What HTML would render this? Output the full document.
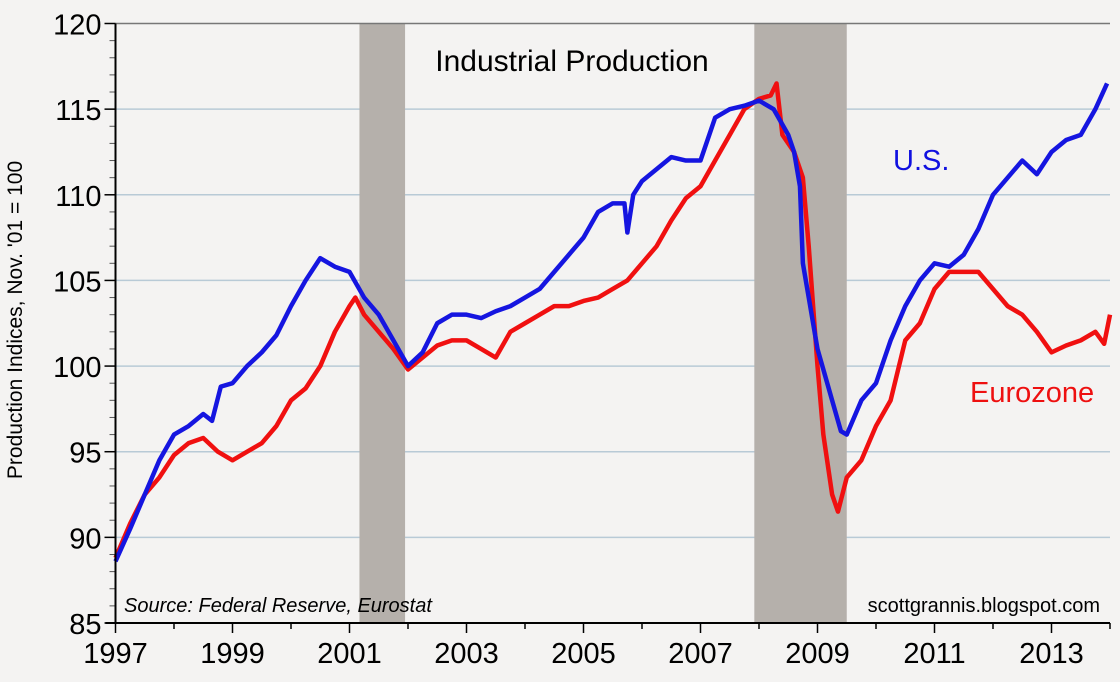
<!DOCTYPE html>
<html><head><meta charset="utf-8"><style>
body{margin:0;background:#f4f3f2;}
svg{display:block;font-family:"Liberation Sans",sans-serif;}
</style></head><body>
<svg id="chart" width="1120" height="682">
<rect width="1120" height="682" fill="#f4f3f2"/>
<g id="grid"></g><g id="rec"></g><g id="series"></g><g id="axes"></g>
<text x="572" y="71" font-size="30" text-anchor="middle">Industrial Production</text>
<text x="893" y="170" font-size="29" fill="#1010e0">U.S.</text>
<text x="970" y="402" font-size="29" fill="#ee1010">Eurozone</text>
<text x="124" y="612" font-size="20" font-style="italic">Source: Federal Reserve, Eurostat</text>
<text x="1100" y="612" font-size="20" text-anchor="end">scottgrannis.blogspot.com</text>
<text transform="translate(22,320) rotate(-90)" font-size="21" text-anchor="middle">Production Indices, Nov. '01 = 100</text>
</svg>
<script>
const yTicks=[85,90,95,100,105,110,115,120];
const xTicks=[1997,1999,2001,2003,2005,2007,2009,2011,2013];
const recessions=[[2001.17,2001.95],[2007.92,2009.5]];
const usDates=[1997.0,1997.25,1997.5,1997.75,1998.0,1998.25,1998.5,1998.65,1998.8,1999.0,1999.25,1999.5,1999.75,2000.0,2000.25,2000.5,2000.75,2001.0,2001.25,2001.5,2001.75,2002.0,2002.25,2002.5,2002.75,2003.0,2003.25,2003.5,2003.75,2004.0,2004.25,2004.5,2004.75,2005.0,2005.25,2005.5,2005.7,2005.75,2005.85,2006.0,2006.25,2006.5,2006.75,2007.0,2007.25,2007.5,2007.75,2008.0,2008.25,2008.5,2008.6,2008.7,2008.75,2008.85,2009.0,2009.25,2009.4,2009.5,2009.75,2010.0,2010.25,2010.5,2010.75,2011.0,2011.25,2011.5,2011.75,2012.0,2012.25,2012.5,2012.75,2013.0,2013.25,2013.5,2013.75,2013.95];
const usValues=[88.6,90.5,92.5,94.5,96,96.5,97.2,96.8,98.8,99,100,100.8,101.8,103.5,105,106.3,105.8,105.5,104,103,101.5,100,100.8,102.5,103,103,102.8,103.2,103.5,104,104.5,105.5,106.5,107.5,109,109.5,109.5,107.8,110,110.8,111.5,112.2,112,112,114.5,115,115.2,115.5,115,113.5,112.5,110.5,106,104,101,98,96.2,96,98,99,101.5,103.5,105,106,105.8,106.5,108,110,111,112,111.2,112.5,113.2,113.5,115,116.5];
const ezDates=[1997.0,1997.25,1997.5,1997.75,1998.0,1998.25,1998.5,1998.75,1999.0,1999.25,1999.5,1999.75,2000.0,2000.25,2000.5,2000.75,2001.0,2001.1,2001.25,2001.5,2001.75,2002.0,2002.25,2002.5,2002.75,2003.0,2003.25,2003.5,2003.75,2004.0,2004.25,2004.5,2004.75,2005.0,2005.25,2005.5,2005.75,2006.0,2006.25,2006.5,2006.75,2007.0,2007.25,2007.5,2007.75,2008.0,2008.2,2008.3,2008.4,2008.6,2008.75,2008.85,2009.0,2009.1,2009.25,2009.35,2009.5,2009.75,2010.0,2010.25,2010.5,2010.75,2011.0,2011.25,2011.5,2011.75,2012.0,2012.25,2012.5,2012.75,2013.0,2013.25,2013.5,2013.75,2013.9,2014.0];
const ezValues=[88.8,90.8,92.5,93.5,94.8,95.5,95.8,95,94.5,95,95.5,96.5,98,98.7,100,102,103.5,104,103,102,101,99.8,100.5,101.2,101.5,101.5,101,100.5,102,102.5,103,103.5,103.5,103.8,104,104.5,105,106,107,108.5,109.8,110.5,112,113.5,115,115.6,115.8,116.5,113.5,112.5,111,107,100,96,92.5,91.5,93.5,94.5,96.5,98,101.5,102.5,104.5,105.5,105.5,105.5,104.5,103.5,103,102,100.8,101.2,101.5,102,101.3,103];
const L=115.5,R=1110,T=23.5,B=623;
const xs=v=>L+(v-1997)*58.5, ys=v=>B-(v-85)*(B-T)/35;
const NS='http://www.w3.org/2000/svg';
function mk(t,p,a){const e=document.createElementNS(NS,t);for(const k in a)e.setAttribute(k,a[k]);p.appendChild(e);return e;}
const g=document.getElementById('grid'),rg=document.getElementById('rec'),sg=document.getElementById('series'),ag=document.getElementById('axes');
yTicks.forEach(v=>{if(v>85&&v<120){const l=mk('line',g,{x1:L,x2:R,y1:ys(v),y2:ys(v),stroke:'#b8cad6','stroke-width':1.5});

}
const t=mk('text',ag,{x:L-14,y:ys(v)+11,'font-size':29,'text-anchor':'end'});t.textContent=v;


mk('line',ag,{x1:L-11,x2:L,y1:ys(v),y2:ys(v),stroke:'#000','stroke-width':1.5});
for(let m=1;m<5&&v<120;m++)mk('line',ag,{x1:L-6,x2:L,y1:ys(v+m),y2:ys(v+m),stroke:'#555','stroke-width':1});});
recessions.forEach((r,i)=>{const e=mk('rect',rg,{x:xs(r[0]),y:T,width:xs(r[1])-xs(r[0]),height:B-T,fill:'#b5b0ab'});

});
function line(d,v,c,n){const p=mk('polyline',sg,{points:d.map((x,i)=>xs(x)+','+ys(v[i])).join(' '),fill:'none',stroke:c,'stroke-width':4.5,'stroke-linejoin':'round'});

}
line(ezDates,ezValues,'#f01010','eurozone-line');
line(usDates,usValues,'#1515e0','us-line');
mk('line',ag,{x1:L,x2:R,y1:T,y2:T,stroke:'#777','stroke-width':1.5});
mk('line',ag,{x1:L,x2:L,y1:T,y2:B+1,stroke:'#000','stroke-width':2});
mk('line',ag,{x1:L-10,x2:R,y1:B,y2:B,stroke:'#000','stroke-width':2});
for(let y=1997;y<=2014;y++)mk('line',ag,{x1:xs(y),x2:xs(y),y1:B,y2:B+(y%2?10:6),stroke:'#000','stroke-width':1.5});
xTicks.forEach(v=>{const t=mk('text',ag,{x:xs(v),y:B+40,'font-size':29,'text-anchor':'middle'});t.textContent=v;

});
</script>
</body></html>
